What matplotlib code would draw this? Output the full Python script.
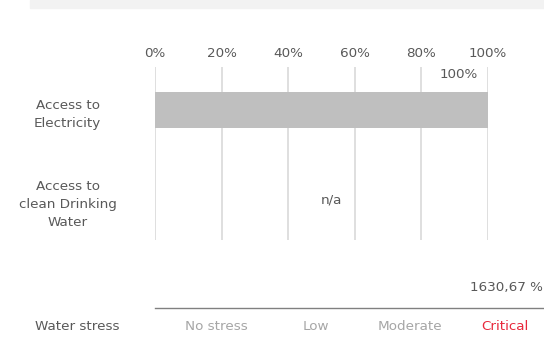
import numpy as np
import matplotlib.pyplot as plt
from matplotlib.patches import Rectangle
from matplotlib.lines import Line2D

categories = ["Access to\nElectricity", "Access to\nclean Drinking\nWater"]
values = [100, np.nan]
value_labels = ["100%", "n/a"]
ticks = [0, 20, 40, 60, 80, 100]

stress_levels = ["No stress", "Low", "Moderate", "Critical"]
stress_current = "Critical"
stress_value = "1630,67 %"

grey_txt = "#595959"
W, H = 544, 338
fs = 9.7

plt.rcParams['font.family'] = ['DejaVu Sans']
fig = plt.figure(figsize=(W / 100, H / 100), dpi=100)

# light band at the top
fig.patches.append(Rectangle((30 / W, 1 - 8 / H), 1, 8 / H, transform=fig.transFigure,
                             color="#f2f2f2", zorder=0))

ax = fig.add_axes([155 / W, 1 - 240 / H, (488 - 155) / W, (240 - 67) / H])
y = np.arange(len(categories))
ax.barh(y, values, height=0.39, color="#bfbfbf", zorder=2)
ax.set_xlim(0, 100)
ax.set_ylim(1.443, -0.478)
ax.set_xticks(ticks)
ax.set_xticklabels([f"{t}%" for t in ticks], color=grey_txt, fontsize=fs)
ax.xaxis.tick_top()
ax.tick_params(axis="x", length=0, pad=5)
ax.set_yticks(y)
ax.set_yticklabels(categories, color=grey_txt, fontsize=fs, ha="center", linespacing=1.5)
ax.tick_params(axis="y", length=0, pad=63)
ax.grid(axis="x", color="#d9d9d9", lw=1.2, zorder=0)
for s in ax.spines.values():
    s.set_visible(False)

for i, (v, lab) in enumerate(zip(values, value_labels)):
    if np.isnan(v):
        ax.text(53, i, lab, ha="center", va="center", color=grey_txt, fontsize=fs)
    else:
        ax.text(v - 3, i - 0.39, lab, ha="right", va="center", color=grey_txt, fontsize=fs)

# water stress row
fig.text(543 / W, 1 - 287 / H, stress_value, ha="right", va="center", color=grey_txt, fontsize=fs)
fig.add_artist(Line2D([155 / W, 1], [1 - 308 / H] * 2, color="#808080", lw=1))
fig.text(77 / W, 1 - 327 / H, "Water stress", ha="center", va="center", color=grey_txt, fontsize=fs)
xs = [216, 316, 410, 505]
for xp, lev in zip(xs, stress_levels):
    c = "#e8283b" if lev == stress_current else "#a6a6a6"
    fig.text(xp / W, 1 - 327 / H, lev, ha="center", va="center", color=c, fontsize=fs)

fig.savefig("out.png", dpi=100)
